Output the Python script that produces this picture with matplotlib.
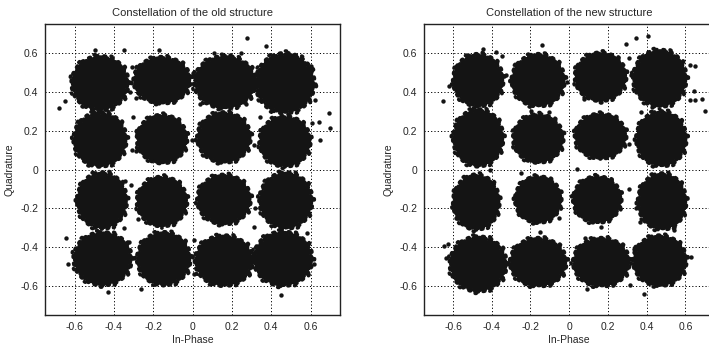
import matplotlib
matplotlib.use("Agg")
import matplotlib.pyplot as plt
from matplotlib.patches import Ellipse

plt.rcParams['font.family'] = ['Liberation Sans', 'DejaVu Sans']

# ---------------- data ----------------
titles = ["Constellation of the old structure", "Constellation of the new structure"]
ticks = [-0.6, -0.4, -0.2, 0, 0.2, 0.4, 0.6]
tick_labels = ["-0.6", "-0.4", "-0.2", "0", "0.2", "0.4", "0.6"]

# old structure: cluster centres and half-spreads (I, Q)
old_ci = [-0.47, -0.155, 0.165, 0.47,
          -0.47, -0.155, 0.16, 0.47,
          -0.46, -0.155, 0.16, 0.475,
          -0.457, -0.146, 0.16, 0.46]
old_cq = [0.445, 0.46, 0.45, 0.445,
          0.155, 0.157, 0.165, 0.145,
          -0.16, -0.165, -0.155, -0.16,
          -0.46, -0.46, -0.47, -0.46]
old_si = [0.145, 0.145, 0.157, 0.15,
          0.135, 0.128, 0.136, 0.13,
          0.127, 0.128, 0.136, 0.135,
          0.148, 0.136, 0.148, 0.15]
old_sq = [0.14, 0.12, 0.135, 0.155,
          0.14, 0.125, 0.13, 0.13,
          0.145, 0.128, 0.128, 0.145,
          0.137, 0.137, 0.13, 0.14]
old_oi = [-0.677, -0.648, -0.498, -0.35, -0.31, -0.32, -0.302, -0.282, -0.307, -0.285,
          -0.17, -0.288, 0.0, 0.277, 0.374, 0.248, 0.19, 0.11, 0.04, 0.274, 0.345,
          0.6, 0.625, 0.622, 0.693, 0.697, 0.65, 0.642, 0.608, 0.311,
          -0.643, -0.631, -0.43, -0.345, -0.314, -0.35, -0.4, -0.322, -0.26, -0.277,
          0.314, 0.452, 0.285, 0.62, 0.583, 0.01, 0.01, 0.32, 0.325, -0.005]
old_oq = [0.318, 0.352, 0.617, 0.614, 0.53, 0.40, 0.27, 0.19, 0.10, 0.093,
          0.614, 0.368, 0.5, 0.676, 0.639, 0.598, 0.59, 0.6, 0.338, 0.338, 0.27,
          0.532, 0.443, 0.358, 0.291, 0.215, 0.152, 0.245, 0.242, 0.127,
          -0.353, -0.486, -0.63, -0.06, -0.08, -0.304, -0.28, -0.375, -0.614, -0.256,
          -0.295, -0.648, -0.537, -0.486, -0.328, -0.363, -0.537, -0.197, -0.4, 0.152]

# new structure
new_ci = [-0.47, -0.16, 0.162, 0.468,
          -0.47, -0.16, 0.162, 0.476,
          -0.48, -0.16, 0.145, 0.48,
          -0.47, -0.16, 0.166, 0.468]
new_cq = [0.46, 0.46, 0.478, 0.47,
          0.163, 0.16, 0.172, 0.158,
          -0.168, -0.155, -0.155, -0.165,
          -0.487, -0.478, -0.478, -0.47]
new_si = [0.13, 0.137, 0.133, 0.138,
          0.13, 0.13, 0.133, 0.13,
          0.12, 0.12, 0.125, 0.125,
          0.147, 0.146, 0.146, 0.138]
new_sq = [0.135, 0.135, 0.125, 0.147,
          0.147, 0.125, 0.116, 0.142,
          0.142, 0.12, 0.12, 0.145,
          0.142, 0.125, 0.125, 0.13]
new_oi = [-0.652, -0.621, -0.445, -0.38, -0.345, -0.324, -0.14, -0.303, -0.195, -0.105,
          -0.453, -0.4, -0.01,
          0.295, 0.343, 0.406, 0.309, 0.317, 0.334, 0.626, 0.651, 0.643, 0.622, 0.651,
          0.687, 0.703, 0.077, 0.163, 0.428, 0.372, 0.309, 0.04,
          -0.407, -0.25, -0.583, -0.638, -0.626, -0.484, -0.238, -0.152, -0.052, -0.324,
          -0.648, 0.631, 0.54, 0.54, 0.386, 0.314, 0.334, 0.343, 0.309, 0.163, 0.091,
          0.08, 0.368]
new_oq = [0.353, 0.43, 0.623, 0.605, 0.583, 0.487, 0.64, 0.456, 0.304, 0.296,
          0.304, 0.247, 0.452,
          0.649, 0.678, 0.687, 0.574, 0.487, 0.435, 0.539, 0.536, 0.403, 0.357, 0.357,
          0.362, 0.304, 0.362, 0.348, 0.322, 0.296, 0.13, 0.003,
          -0.003, -0.017, -0.252, -0.456, -0.386, -0.626, -0.574, -0.322, -0.252, -0.487,
          -0.395, -0.449, -0.296, -0.31, -0.64, -0.595, -0.409, -0.2, -0.1, -0.296, -0.617,
          -0.351, -0.27]

panels = [(old_ci, old_cq, old_si, old_sq, old_oi, old_oq),
          (new_ci, new_cq, new_si, new_sq, new_oi, new_oq)]

# ---------------- drawing ----------------
W, H = 709, 352
fig = plt.figure(figsize=(W / 100, H / 100), dpi=100)
rects = [[45 / W, 37 / H, 295 / W, 291 / H],
         [424 / W, 37 / H, 290.4 / W, 291 / H]]

dot = '#141414'
txt = '#262626'

# (scale of cluster spread, line width, dash pattern) for the fuzzy cluster rims
rims = [(0.95, 3.0, (0, (0.4, 0.9))),
        (1.01, 2.8, (0.7, (0.4, 1.6))),
        (1.07, 2.6, (1.5, (0.3, 4.5)))]

for k, (rect, title, data) in enumerate(zip(rects, titles, panels)):
    ax = fig.add_axes(rect)
    ci, cq, si, sq, oi, oq = data
    for x, y, a, b in zip(ci, cq, si, sq):
        core = Ellipse((x, y), 2 * a * 0.93, 2 * b * 0.93, facecolor=dot,
                       edgecolor='none', zorder=3)
        ax.add_patch(core)
        for f, lw, ls in rims:
            ring = Ellipse((x, y), 2 * a * f, 2 * b * f, facecolor='none',
                           edgecolor=dot, linewidth=lw, linestyle=ls,
                           capstyle='round', zorder=3)
            ax.add_patch(ring)
    ax.scatter(oi, oq, s=10, color=dot, linewidths=0, zorder=3)

    ax.set_xlim(-0.75, 0.75)
    ax.set_ylim(-0.75, 0.75)
    ax.set_xticks(ticks)
    ax.set_yticks(ticks)
    ax.set_xticklabels(tick_labels)
    ax.set_yticklabels(tick_labels)
    ax.tick_params(direction='in', length=0, labelsize=7.5,
                   labelcolor=txt, pad=5)
    ax.grid(True, color='black', linestyle=(0, (1.2, 2.2)), linewidth=0.7, zorder=1)
    ax.set_axisbelow(True)
    for sp in ax.spines.values():
        sp.set_linewidth(1.0)
        sp.set_color('#222222')
    ax.set_title(title, fontsize=8, color=txt, pad=6)
    ax.set_xlabel("In-Phase", fontsize=7.5, color=txt, labelpad=2)
    ax.set_ylabel("Quadrature", fontsize=7.5, color=txt, labelpad=4)

fig.savefig("out.png", dpi=100)
